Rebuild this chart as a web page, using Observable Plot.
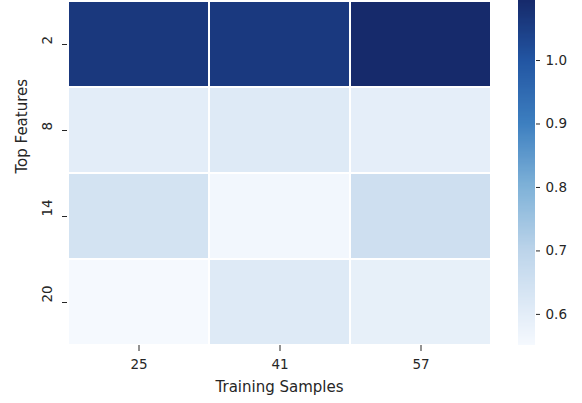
<!DOCTYPE html>
<html><head><meta charset="utf-8">
<script src="https://cdn.jsdelivr.net/npm/d3@7"></script>
<script src="https://cdn.jsdelivr.net/npm/@observablehq/plot@0.6"></script>
<style>
body{margin:0;background:#fff}
#c{position:relative;width:582px;height:403px;overflow:hidden}
#c > svg, #c > figure{position:absolute;top:0;margin:0}
</style>
</head><body><div id="c"></div>
<script>
const trainingSamples = ["25", "41", "57"];
const topFeatures = ["2", "8", "14", "20"];
// rows follow topFeatures, columns follow trainingSamples
const row2  = [1.062, 1.060, 1.093];
const row8  = [0.600, 0.612, 0.595];
const row14 = [0.640, 0.560, 0.655];
const row20 = [0.551, 0.614, 0.588];
const colorDomain = [0.551, 1.093];
const colorTicks = [0.6, 0.7, 0.8, 0.9, 1.0];

// colour options (matplotlib "Blues" as it appears in the picture)
const colorOptions = {
  type: "linear",
  domain: [0.551, 0.6, 0.7, 0.8, 0.9, 1.0, 1.093],
  range: ["#f5f9fe", "#e3edf8", "#bcd4ea", "#7fb2d8", "#3d7fc0", "#2255a2", "#162a6b"],
  interpolate: "rgb"
};

const rows = [row2, row8, row14, row20];
const cells = [];
topFeatures.forEach((f, i) => trainingSamples.forEach((s, j) => cells.push({f, s, v: rows[i][j]})));

const textColor = "#262626";
const font = "DejaVu Sans";

const main = Plot.plot({
  width: 500, height: 403,
  marginLeft: 67, marginRight: 9, marginTop: 1, marginBottom: 58,
  style: {fontFamily: font, fontSize: "13.5px", color: textColor, background: "transparent"},
  x: {domain: trainingSamples, padding: 0, label: null},
  y: {domain: topFeatures, padding: 0, label: null},
  color: colorOptions,
  marks: [
    Plot.cell(cells, {x: "s", y: "f", fill: "v", inset: 1}),
    Plot.axisX({tickSize: 6, tickPadding: 8, label: null, stroke: textColor}),
    Plot.axisY({tickSize: 5, tickFormat: () => "", label: null, stroke: textColor}),
    Plot.text(topFeatures, {y: d => d, text: d => d, frameAnchor: "left", rotate: -90, dx: -20, fill: textColor}),
    Plot.text(["Training Samples"], {frameAnchor: "bottom", text: d => d, dy: 46, fontSize: 15, fill: textColor}),
    Plot.text(["Top Features"], {frameAnchor: "left", text: d => d, rotate: -90, dx: -45, fontSize: 15, fill: textColor})
  ]
});
main.style.left = "0px";
document.getElementById("c").appendChild(main);

// colorbar
const n = 300;
const step = (colorDomain[1] - colorDomain[0]) / n;
const stripes = d3.range(n).map(i => ({y1: colorDomain[0] + i * step, y2: colorDomain[0] + (i + 1.5) * step, v: colorDomain[0] + (i + 0.5) * step}));
const bar = Plot.plot({
  width: 82, height: 403,
  marginLeft: 18, marginRight: 47, marginTop: 1, marginBottom: 58,
  style: {fontFamily: font, fontSize: "13.5px", color: textColor, background: "transparent"},
  x: {domain: [0, 1], axis: null},
  y: {domain: colorDomain, label: null, ticks: colorTicks, tickFormat: d3.format(".1f")},
  color: colorOptions,
  marks: [
    Plot.rect(stripes, {x1: 0, x2: 1, y1: "y1", y2: "y2", fill: "v", shapeRendering: "crispEdges"}),
    Plot.axisY({anchor: "right", ticks: colorTicks, tickFormat: d3.format(".1f"), tickSize: 4, tickPadding: 6, label: null, stroke: textColor})
  ]
});
bar.style.left = "500px";
document.getElementById("c").appendChild(bar);
</script>
</body></html>
